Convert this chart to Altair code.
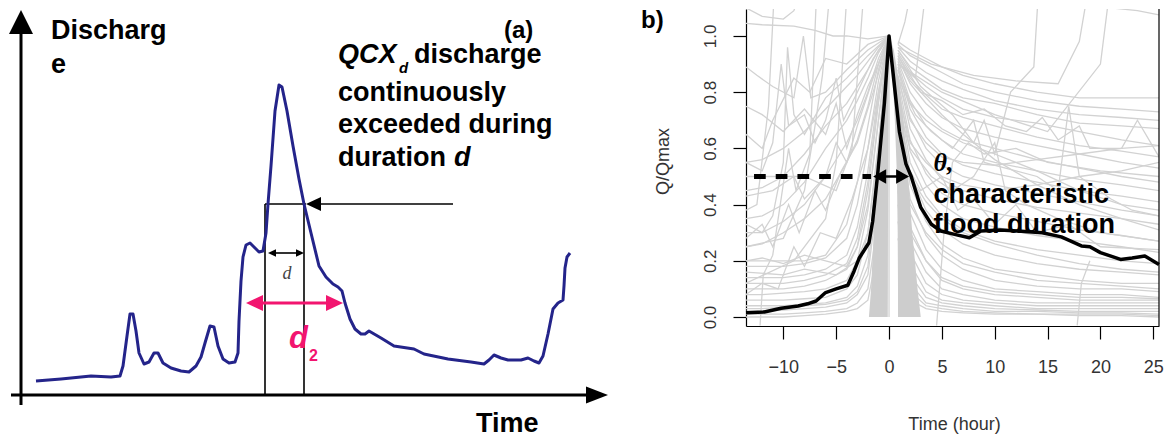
import altair as alt
import pandas as pd

# ================= Panel (a): schematic hydrograph (arbitrary units) =================
HYDRO_T = [15, 40, 70, 90, 99, 102, 106, 109, 112, 115, 118, 123, 128, 133, 137, 142, 150, 160, 168, 175,
           180, 184, 189, 193, 197, 202, 208, 214, 217, 218, 220, 222, 225, 229, 233, 238, 242, 245, 247, 250,
           254, 258, 261, 266, 272, 278, 283, 290, 298, 305, 312, 317, 321, 324, 329, 334, 340, 344, 348, 360,
           373, 393, 403, 427, 450, 463, 468, 473, 480, 487, 500, 507, 513, 518, 522, 527, 532, 537, 542, 543,
           544, 546, 549]
HYDRO_Q = [14, 16, 19, 18, 19, 29, 59, 81, 81, 64, 42, 31, 33, 42, 42, 32, 27, 24, 23, 29,
           38, 52, 69, 68, 49, 36, 32, 33, 42, 74, 114, 138, 150, 152, 148, 143, 144, 162, 191, 229,
           284, 310, 308, 284, 249, 216, 191, 162, 129, 118, 111, 108, 104, 92, 76, 66, 61, 61, 64, 57,
           49, 46, 41, 36, 33, 31, 35, 40, 37, 35, 35, 37, 34, 32, 39, 61, 86, 92, 95, 109,
           127, 138, 142]

A_XDOM = [-12, 613]
A_YDOM = [-47, 386]
THRESH_Q = 191          # QCX_d level
D_START, D_END = 244, 283
D2_START, D2_END = 225, 322
D2_Q = 92
D_ARROW_Q = 142

# ================= Panel (b): normalised flood events =================
MEAN_T = [-13.53, -11.8, -10.2, -8.6, -7.7, -6.9, -6.0, -5.0, -3.9, -3.3, -2.8, -1.9, -1.55, -1.07, -0.44, 0,
          0.98, 1.6, 2.1, 3.0, 4.0, 4.9, 6.2, 7.6, 8.7, 10.5, 12.5, 14.5, 16.3, 17.2, 18.2, 19.0, 20.0, 21.9,
          23.0, 24.2, 25.54]
MEAN_V = [0.015, 0.018, 0.031, 0.039, 0.047, 0.057, 0.087, 0.10, 0.113, 0.164, 0.211, 0.264, 0.34, 0.51, 0.76, 1.0,
          0.66, 0.545, 0.50, 0.39, 0.33, 0.306, 0.294, 0.282, 0.306, 0.31, 0.305, 0.30, 0.285, 0.27, 0.253, 0.25,
          0.229, 0.205, 0.21, 0.217, 0.187]

FALL_T = [0.85, 2, 3.5, 5, 7, 10, 14, 18, 22, 25.54]
FALL_CURVES = [
    [0.98, 0.95, 0.92, 0.89, 0.86, 0.83, 0.80, 0.78, 0.78, 0.78],
    [0.97, 0.93, 0.90, 0.87, 0.83, 0.80, 0.77, 0.75, 0.74, 0.73],
    [0.96, 0.91, 0.87, 0.84, 0.81, 0.77, 0.74, 0.72, 0.71, 0.70],
    [0.95, 0.89, 0.85, 0.81, 0.78, 0.76, 0.72, 0.69, 0.68, 0.67],
    [0.94, 0.87, 0.82, 0.78, 0.74, 0.71, 0.69, 0.66, 0.63, 0.61],
    [0.93, 0.85, 0.79, 0.74, 0.71, 0.68, 0.64, 0.61, 0.59, 0.57],
    [0.92, 0.83, 0.76, 0.71, 0.67, 0.64, 0.61, 0.58, 0.55, 0.53],
    [0.91, 0.80, 0.72, 0.67, 0.63, 0.60, 0.56, 0.53, 0.50, 0.48],
    [0.90, 0.77, 0.68, 0.63, 0.58, 0.55, 0.52, 0.49, 0.47, 0.45],
    [0.89, 0.74, 0.64, 0.58, 0.54, 0.51, 0.48, 0.45, 0.43, 0.41],
    [0.88, 0.71, 0.60, 0.54, 0.50, 0.47, 0.44, 0.41, 0.38, 0.36],
    [0.86, 0.67, 0.56, 0.49, 0.45, 0.42, 0.39, 0.37, 0.35, 0.33],
    [0.84, 0.63, 0.51, 0.44, 0.40, 0.37, 0.34, 0.31, 0.29, 0.27],
    [0.82, 0.59, 0.47, 0.40, 0.35, 0.32, 0.29, 0.27, 0.25, 0.23],
    [0.80, 0.55, 0.43, 0.36, 0.31, 0.27, 0.24, 0.22, 0.20, 0.19],
    [0.78, 0.51, 0.38, 0.31, 0.26, 0.22, 0.19, 0.17, 0.16, 0.15],
    [0.75, 0.47, 0.34, 0.26, 0.21, 0.17, 0.15, 0.13, 0.12, 0.12],
    [0.72, 0.42, 0.29, 0.22, 0.17, 0.13, 0.11, 0.10, 0.10, 0.09],
    [0.68, 0.37, 0.24, 0.17, 0.13, 0.10, 0.09, 0.08, 0.08, 0.07],
    [0.64, 0.32, 0.20, 0.13, 0.10, 0.08, 0.07, 0.06, 0.06, 0.06],
    [0.60, 0.27, 0.16, 0.10, 0.08, 0.06, 0.05, 0.05, 0.05, 0.05],
    [0.55, 0.23, 0.12, 0.08, 0.06, 0.05, 0.04, 0.04, 0.04, 0.04],
    [0.50, 0.19, 0.09, 0.06, 0.05, 0.04, 0.03, 0.03, 0.03, 0.03],
    [0.45, 0.15, 0.07, 0.05, 0.04, 0.03, 0.025, 0.02, 0.02, 0.02],
    [0.40, 0.12, 0.05, 0.04, 0.03, 0.02, 0.02, 0.015, 0.015, 0.01],
    [0.34, 0.09, 0.04, 0.03, 0.02, 0.015, 0.01, 0.01, 0.01, 0.005],
    [0.28, 0.06, 0.03, 0.02, 0.015, 0.01, 0.01, 0.005, 0.005, 0.0],
    [0.88, 0.76, 0.70, 0.66, 0.62, 0.58, 0.52, 0.45, 0.40, 0.38],
    [0.92, 0.84, 0.78, 0.72, 0.65, 0.56, 0.47, 0.40, 0.35, 0.31],
    [0.85, 0.70, 0.62, 0.57, 0.55, 0.54, 0.56, 0.58, 0.60, 0.61],
    [0.80, 0.62, 0.55, 0.50, 0.47, 0.45, 0.47, 0.50, 0.52, 0.55],
    [0.70, 0.50, 0.41, 0.35, 0.30, 0.26, 0.22, 0.19, 0.17, 0.16],
    [0.62, 0.40, 0.30, 0.24, 0.19, 0.16, 0.13, 0.12, 0.11, 0.10],
    [0.52, 0.30, 0.20, 0.14, 0.11, 0.09, 0.08, 0.07, 0.07, 0.065],
]

RISE_T = [-13.53, -12, -10, -8, -6, -4, -3, -2, -1, 0]
RISE_CURVES = [
    [0.0, 0.0, 0.0, 0.005, 0.01, 0.02, 0.03, 0.06, 0.25, 1.0],
    [0.01, 0.01, 0.01, 0.015, 0.02, 0.03, 0.05, 0.10, 0.35, 1.0],
    [0.02, 0.02, 0.025, 0.03, 0.035, 0.05, 0.08, 0.15, 0.45, 1.0],
    [0.04, 0.04, 0.04, 0.045, 0.05, 0.07, 0.11, 0.22, 0.55, 1.0],
    [0.06, 0.06, 0.06, 0.065, 0.07, 0.10, 0.15, 0.30, 0.62, 1.0],
    [0.08, 0.08, 0.085, 0.09, 0.10, 0.13, 0.20, 0.38, 0.70, 1.0],
    [0.10, 0.10, 0.10, 0.11, 0.13, 0.17, 0.25, 0.45, 0.76, 1.0],
    [0.14, 0.14, 0.14, 0.15, 0.17, 0.22, 0.32, 0.52, 0.80, 1.0],
    [0.18, 0.18, 0.18, 0.19, 0.21, 0.28, 0.40, 0.60, 0.84, 1.0],
    [0.20, 0.20, 0.20, 0.20, 0.22, 0.33, 0.48, 0.68, 0.88, 1.0],
    [0.25, 0.26, 0.30, 0.35, 0.42, 0.55, 0.63, 0.75, 0.90, 1.0],
    [0.30, 0.30, 0.34, 0.40, 0.50, 0.62, 0.70, 0.80, 0.92, 1.0],
    [0.35, 0.36, 0.40, 0.48, 0.60, 0.70, 0.77, 0.85, 0.94, 1.0],
    [0.45, 0.46, 0.50, 0.58, 0.68, 0.76, 0.82, 0.88, 0.95, 1.0],
    [0.55, 0.56, 0.60, 0.66, 0.74, 0.82, 0.86, 0.91, 0.96, 1.0],
    [0.03, 0.03, 0.035, 0.04, 0.045, 0.06, 0.09, 0.18, 0.50, 1.0],
    [0.12, 0.12, 0.12, 0.13, 0.15, 0.19, 0.28, 0.48, 0.78, 1.0],
]

JAGGED = [
    [(-13.53, 0.33), (-12, 0.30), (-11, 0.36), (-10, 0.55), (-9.6, 0.96), (-9, 0.72), (-8, 0.65), (-6, 0.78), (-4, 0.85), (-2, 0.93), (0, 1.0)],
    [(-13.53, 0.89), (-12.5, 0.86), (-11, 0.82), (-9, 0.78), (-8.1, 1.0), (-7.4, 0.78), (-6, 0.80), (-4, 0.88), (-2, 0.95), (0, 1.0)],
    [(-13.53, 1.045), (-12, 1.04), (-9, 1.035), (-7, 1.02), (-5.3, 1.0), (-4, 1.0), (-2, 0.99), (0, 1.0)],
    [(-13.53, 0.55), (-12, 0.52), (-11, 0.62), (-10.2, 0.90), (-9.5, 0.68), (-8, 0.72), (-7, 0.62), (-6, 0.70), (-5, 0.85), (-4.3, 0.70), (-3, 0.80), (-1.5, 0.92), (0, 1.0)],
    [(-13.53, 0.38), (-12.5, 0.40), (-11.4, 0.75), (-10.8, 1.2)],
    [(-13.53, 0.25), (-10, 0.28), (-8, 0.45), (-7, 0.68), (-6.3, 0.86), (-5.5, 1.2)],
    [(-13.53, 0.12), (-9, 0.2), (-6, 0.35), (-5, 0.55), (-4.4, 0.90), (-3.9, 1.2)],
    [(-13.53, 0.5), (-8, 0.5), (-5, 0.45), (-3.5, 0.60), (-2.8, 0.95), (-2.3, 1.2)],
    [(-13.53, 0.75), (-12, 0.72), (-10, 0.66), (-8, 0.74), (-6, 0.65), (-5, 0.76), (-4, 0.60), (-3, 0.72), (-2, 0.82), (-1, 0.90), (0, 1.0)],
    [(-13.53, 0.43), (-11, 0.45), (-9, 0.50), (-8, 0.42), (-6, 0.50), (-5, 0.62), (-4, 0.55), (-3, 0.68), (-1.5, 0.85), (0, 1.0)],
    [(-13.53, 1.10), (-12, 1.07), (-10, 1.06), (-9, 1.09), (-8, 1.2)],
    [(-13.53, 0.20), (-12, 0.21), (-10, 0.19), (-8, 0.22), (-6, 0.20), (-4, 0.18), (-3, 0.25), (-2, 0.40), (-1, 0.70), (0, 1.0)],
    [(-13.53, 0.16), (-10, 0.15), (-8, 0.17), (-5, 0.15), (-3, 0.20), (-2, 0.30), (-1, 0.60), (0, 1.0)],
    [(-13.53, 0.65), (-12, 0.60), (-11, 0.70), (-9, 0.85), (-7.5, 0.80), (-6, 0.92), (-4, 0.9), (-2, 0.97), (0, 1.0)],
    [(-13.53, 0.28), (-12, 0.33), (-11, 0.25), (-9.5, 0.40), (-8.5, 0.30), (-7, 0.45), (-6, 0.38), (-4.5, 0.52), (-3, 0.62), (-1.5, 0.80), (0, 1.0)],
    [(-13.53, 0.08), (-12, 0.12), (-10.5, 0.10), (-9, 0.25), (-8, 0.18), (-6.5, 0.30), (-5, 0.28), (-3.5, 0.42), (-2, 0.60), (0, 1.0)],
    [(-12.2, -0.03), (-11.9, 0.15), (-11, 0.22), (-9.5, 0.60), (-8.8, 0.45), (-7.5, 0.58), (-6.8, 1.2)],
    [(0.85, 0.95), (3, 0.82), (6, 0.72), (8, 0.62), (9, 0.70), (10, 0.58), (11.5, 0.80), (13.7, 0.89), (14.2, 1.2)],
    [(17.5, 1.2), (18.5, 1.12), (21, 1.10), (23.5, 1.09), (25.54, 1.075)],
    [(0.85, 0.93), (3, 0.80), (5, 0.77), (7, 0.72), (9, 0.74), (11, 0.68), (13, 0.66), (14.5, 0.71), (16, 0.63), (18, 0.68), (19, 0.60), (22, 0.60), (23.5, 0.70), (25.54, 0.57)],
    [(0.85, 0.85), (2.5, 0.72), (4, 0.66), (6, 0.60), (8, 0.70), (9, 0.55), (12, 0.52), (14, 0.50), (16, 0.45), (17, 0.75), (18, 0.50), (21, 0.42), (23, 0.38), (25.54, 0.36)],
    [(0.85, 0.75), (2, 0.60), (4, 0.50), (6, 0.45), (8, 0.50), (10, 0.62), (11, 0.45), (13, 0.40), (16, 0.35), (20, 0.30), (25.54, 0.27)],
    [(0.85, 0.97), (1.5, 1.05), (2.3, 1.2)],
    [(0.85, 0.90), (2.5, 0.85), (3.6, 1.2)],
    [(0.85, 0.96), (4, 0.9), (8, 0.86), (12, 0.84), (16, 0.83), (18, 0.98), (19, 1.2)],
    [(0.85, 0.9), (5, 0.8), (10, 0.72), (15, 0.66), (20, 0.9), (21, 1.2)],
    [(17.8, -0.03), (18.2, 0.12), (19, 0.2)],
    [(0.85, 0.6), (3, 0.45), (5, 0.50), (6.5, 0.38), (8, 0.42), (10, 0.33), (12, 0.40), (14, 0.30), (17, 0.33), (20, 0.25), (25.54, 0.24)],
    [(4.5, -0.03), (5.2, 0.3), (6, 0.55), (7.5, 0.62), (9, 0.58), (12, 0.6), (15, 0.55), (20, 0.52), (25.54, 0.5)],
]

WEDGE_V = [0.0, 0.1, 0.3, 0.5, 0.7, 0.85, 0.95, 1.0]
WEDGE_L_X1 = [-1.9, -1.7, -1.45, -1.15, -0.8, -0.5, -0.25, 0.0]
WEDGE_L_X2 = [-0.12, -0.11, -0.10, -0.08, -0.06, -0.04, -0.02, 0.0]
WEDGE_R_X1 = [0.85, 0.85, 0.82, 0.75, 0.55, 0.35, 0.12, 0.0]
WEDGE_R_X2 = [3.0, 2.7, 2.2, 1.8, 1.35, 0.9, 0.45, 0.05]

B_XDOM = [-13.53, 25.54]
B_YDOM = [-0.032, 1.096]
X_TICKS = [-10, -5, 0, 5, 10, 15, 20, 25]
Y_TICKS = [0.0, 0.2, 0.4, 0.6, 0.8, 1.0]
HALF_LEVEL = 0.5
DASH_START, DASH_END = -12.77, -1.7
THETA_L, THETA_R = -1.5, 1.9

FONT = "Liberation Sans"
SERIF = "Liberation Serif"
PINK = "#f2156f"
BLUE = "#24248a"
GRAY = "#d2d2d2"

# ---------------------------------------------------------------------------
ax = alt.Scale(domain=A_XDOM, nice=False, zero=False)
ay = alt.Scale(domain=A_YDOM, nice=False, zero=False)


def AX(f):
    return alt.X(f, type="quantitative", scale=ax, axis=None)


def AY(f):
    return alt.Y(f, type="quantitative", scale=ay, axis=None)


hydro = pd.DataFrame({"t": HYDRO_T, "q": HYDRO_Q, "k": range(len(HYDRO_T))})
curve = alt.Chart(hydro).mark_line(color=BLUE, strokeWidth=3, strokeJoin="round").encode(
    x=AX("t"), y=AY("q"), order="k:Q")

axes_df = pd.DataFrame({"t1": [0, -10], "t2": [0, 567], "q1": [-10, 0], "q2": [362, 0]})
axes_lines = alt.Chart(axes_df).mark_rule(color="black", strokeWidth=3).encode(
    x=AX("t1"), x2="t2", y=AY("q1"), y2="q2")

thin_df = pd.DataFrame({
    "t1": [D_START, D_START, D_END, 300],
    "t2": [D_END + 2, D_START, D_END, 432],
    "q1": [THRESH_Q, 0, 0, THRESH_Q],
    "q2": [THRESH_Q, THRESH_Q, THRESH_Q, THRESH_Q],
})
thin_lines = alt.Chart(thin_df).mark_rule(color="black", strokeWidth=1.6).encode(
    x=AX("t1"), x2="t2", y=AY("q1"), y2="q2")

d_line = alt.Chart(pd.DataFrame({"t1": [D_START + 5], "t2": [D_END - 3], "q": [D_ARROW_Q]})).mark_rule(
    color="black", strokeWidth=1.6).encode(x=AX("t1"), x2="t2", y=AY("q"))
pink_line = alt.Chart(pd.DataFrame({"t1": [D2_START + 10], "t2": [D2_END - 10], "q": [D2_Q]})).mark_rule(
    color=PINK, strokeWidth=3).encode(x=AX("t1"), x2="t2", y=AY("q"))


def head(df, path, size, color, X, Y):
    return alt.Chart(df).mark_point(shape=path, size=size, filled=True, opacity=1,
                                    color=color, strokeWidth=0).encode(x=X, y=Y)


UP = "M0,-1L1,1L-1,1Z"
RIGHT = "M1,0L-1,-0.77L-1,0.77Z"
LEFTW = "M-1,0L1,-0.94L1,0.94Z"
RIGHTW = "M1,0L-1,-0.94L-1,0.94Z"

heads_a = [
    head(pd.DataFrame({"t": [0], "q": [373]}), UP, 576, "black", AX("t"), AY("q")),
    head(pd.DataFrame({"t": [576], "q": [0]}), RIGHT, 484, "black", AX("t"), AY("q")),
    head(pd.DataFrame({"t": [292.5], "q": [THRESH_Q]}), LEFTW, 225, "black", AX("t"), AY("q")),
    head(pd.DataFrame({"t": [D_START + 7], "q": [D_ARROW_Q]}), LEFTW, 64, "black", AX("t"), AY("q")),
    head(pd.DataFrame({"t": [D_END - 4], "q": [D_ARROW_Q]}), RIGHTW, 64, "black", AX("t"), AY("q")),
    head(pd.DataFrame({"t": [D2_START + 8.5], "q": [D2_Q]}), LEFTW, 289, PINK, AX("t"), AY("q")),
    head(pd.DataFrame({"t": [D2_END - 8.5], "q": [D2_Q]}), RIGHTW, 289, PINK, AX("t"), AY("q")),
]


def txt(df, size, color="black", weight="bold", style="normal", font=FONT, align="left"):
    return alt.Chart(df).mark_text(align=align, baseline="alphabetic", font=font, fontSize=size,
                                   fontWeight=weight, fontStyle=style, color=color).encode(
        x=AX("t"), y=AY("q"), text="s:N")


A_BOLD = pd.DataFrame({
    "t": [30, 30, 393, 317, 317, 317, 455],
    "q": [356, 322, 332, 294, 262, 229, -37],
    "s": ["Discharg", "e", "discharge", "continuously", "exceeded during", "duration", "Time"],
})
texts_a = [
    txt(A_BOLD, 27),
    txt(pd.DataFrame({"t": [483], "q": [357], "s": ["(a)"]}), 24),
    txt(pd.DataFrame({"t": [317], "q": [332], "s": ["QCX"]}), 27, style="italic"),
    txt(pd.DataFrame({"t": [378], "q": [322], "s": ["d"]}), 15, style="italic"),
    txt(pd.DataFrame({"t": [433], "q": [229], "s": ["d"]}), 27, style="italic"),
    txt(pd.DataFrame({"t": [266], "q": [116], "s": ["d"]}), 18, color="#444", weight="normal",
        style="italic", font=SERIF, align="center"),
    txt(pd.DataFrame({"t": [268], "q": [47], "s": ["d"]}), 31, color=PINK, style="italic"),
    txt(pd.DataFrame({"t": [288], "q": [34], "s": ["2"]}), 16, color=PINK),
]

panel_a = alt.layer(axes_lines, thin_lines, d_line, pink_line, curve, *heads_a, *texts_a).properties(
    width=625, height=433)

# ---------------------------------------------------------------------------
bx = alt.Scale(domain=B_XDOM, nice=False, zero=False)
by = alt.Scale(domain=B_YDOM, nice=False, zero=False)

x_axis = alt.Axis(values=X_TICKS, format="d", title="Time (hour)", grid=False, tickSize=13,
                  tickColor="black", tickWidth=1.2, domainColor="black", domainWidth=1.2,
                  labelFont=FONT, labelFontSize=18, labelColor="#333", labelPadding=19, labelFlush=False,
                  titleFont=FONT, titleFontSize=18, titleFontWeight="normal", titleColor="#333",
                  titleX=208, titleY=98, titleAlign="center", titleBaseline="middle")
y_axis = alt.Axis(values=Y_TICKS, format=".1f", title="Q/Qmax", grid=False, tickSize=13,
                  tickColor="black", tickWidth=1.2, domainColor="black", domainWidth=1.2,
                  labelFont=FONT, labelFontSize=17, labelColor="#333", labelAngle=270,
                  labelAlign="center", labelBaseline="alphabetic", labelPadding=18, labelFlush=False,
                  titleFont=FONT, titleFontSize=18, titleFontWeight="normal", titleColor="#333",
                  titleAngle=270, titleX=-83, titleY=152, titleAlign="center", titleBaseline="middle")


def BX(f):
    return alt.X(f, type="quantitative", scale=bx, axis=x_axis)


def BY(f):
    return alt.Y(f, type="quantitative", scale=by, axis=y_axis)


rows = []
sid = 0
for vals in FALL_CURVES:
    for k, (t, v) in enumerate(zip(FALL_T, vals)):
        rows.append({"sid": sid, "k": k, "t": t, "v": v})
    sid += 1
for vals in RISE_CURVES:
    for k, (t, v) in enumerate(zip(RISE_T, vals)):
        rows.append({"sid": sid, "k": k, "t": t, "v": v})
    sid += 1
for pts in JAGGED:
    for k, (t, v) in enumerate(pts):
        rows.append({"sid": sid, "k": k, "t": t, "v": v})
    sid += 1
gray_df = pd.DataFrame(rows)

gray_lines = alt.Chart(gray_df).mark_line(color=GRAY, strokeWidth=1.3, clip=True).encode(
    x=BX("t"), y=BY("v"), detail="sid:N", order="k:Q")

wedge_rows = []
for v, a, b in zip(WEDGE_V, WEDGE_L_X1, WEDGE_L_X2):
    wedge_rows.append({"side": "L", "v": v, "x1": a, "x2": b})
for v, a, b in zip(WEDGE_V, WEDGE_R_X1, WEDGE_R_X2):
    wedge_rows.append({"side": "R", "v": v, "x1": a, "x2": b})
wedges = alt.Chart(pd.DataFrame(wedge_rows)).mark_area(orient="horizontal", color="#cdcdcd", opacity=1).encode(
    y=BY("v"), x=BX("x1"), x2="x2", detail="side:N")

zero_line = alt.Chart(pd.DataFrame({"t": [0], "v1": [0], "v2": [1]})).mark_rule(
    color=GRAY, strokeWidth=1.3).encode(x=BX("t"), y=BY("v1"), y2="v2")

mean_df = pd.DataFrame({"t": MEAN_T, "v": MEAN_V, "k": range(len(MEAN_T))})
mean_line = alt.Chart(mean_df).mark_line(color="black", strokeWidth=3.5, strokeJoin="round").encode(
    x=BX("t"), y=BY("v"), order="k:Q")

right_box = alt.Chart(pd.DataFrame({"t": [B_XDOM[1]], "v1": [B_YDOM[0]], "v2": [B_YDOM[1]]})).mark_rule(
    color="black", strokeWidth=1.2).encode(x=BX("t"), y=BY("v1"), y2="v2")

dash = alt.Chart(pd.DataFrame({"t1": [DASH_START], "t2": [DASH_END], "v": [HALF_LEVEL]})).mark_rule(
    color="black", strokeWidth=5, strokeDash=[11.7, 10]).encode(x=BX("t1"), x2="t2", y=BY("v"))
theta_line = alt.Chart(pd.DataFrame({"t1": [THETA_L + 0.6], "t2": [THETA_R - 0.6], "v": [HALF_LEVEL]})).mark_rule(
    color="black", strokeWidth=2.5).encode(x=BX("t1"), x2="t2", y=BY("v"))
theta_heads = [
    head(pd.DataFrame({"t": [THETA_L + 0.615], "v": [HALF_LEVEL]}), "M-1,0L1,-1.1L1,1.1Z", 169, "black", BX("t"), BY("v")),
    head(pd.DataFrame({"t": [THETA_R - 0.615], "v": [HALF_LEVEL]}), "M1,0L-1,-1.1L-1,1.1Z", 169, "black", BX("t"), BY("v")),
]


def btxt(df, size, style="normal", font=FONT, baseline="alphabetic"):
    return alt.Chart(df).mark_text(align="left", baseline=baseline, font=font, fontSize=size,
                                   fontWeight="bold", fontStyle=style, color="black").encode(
        x=BX("t"), y=BY("v"), text="s:N")


texts_b = [
    btxt(pd.DataFrame({"t": [4.2], "v": [0.52], "s": ["θ,"]}), 26, style="italic", font=SERIF),
    btxt(pd.DataFrame({"t": [4.2, 4.2], "v": [0.406, 0.299], "s": ["characteristic", "flood duration"]}), 27),
    btxt(pd.DataFrame({"t": [-23.46], "v": [B_YDOM[1]], "s": ["b)"]}), 24, baseline="top"),
]

panel_b = alt.layer(gray_lines, wedges, zero_line, mean_line, right_box, dash, theta_line,
                    *theta_heads, *texts_b).properties(width=413, height=317)

chart = alt.hconcat(panel_a, panel_b, spacing=112, bounds="flush").properties(
    padding=0, background="white").configure_view(stroke=None)

chart.save("out.html", embed_options={"renderer": "svg", "actions": False})
